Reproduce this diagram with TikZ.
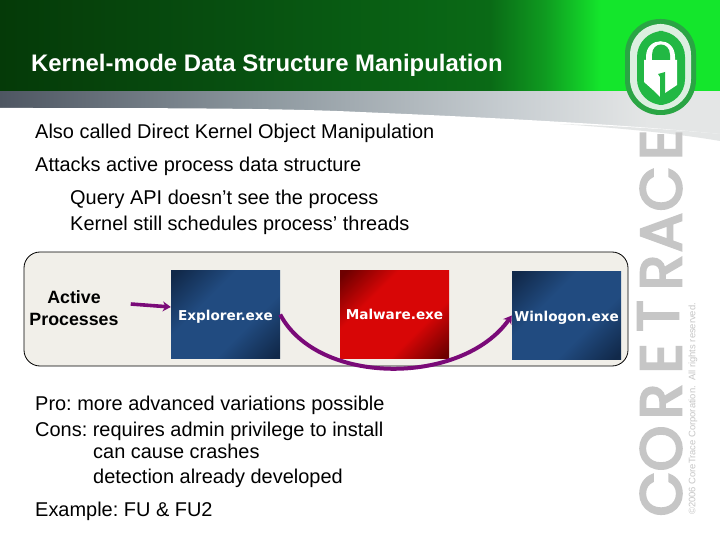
\documentclass[tikz,border=0pt]{standalone}
\usepackage{fontspec}
\setmainfont{Liberation Sans}
\newfontfamily\boxfont{DejaVu Sans}
\newfontfamily\logofont[FakeBold=4]{Poppins}
\definecolor{gA}{HTML}{053A08}
\definecolor{gB}{HTML}{074F10}
\definecolor{gC}{HTML}{0A6A16}
\definecolor{gD}{HTML}{0F9A20}
\definecolor{gE}{HTML}{14E62C}
\definecolor{sA}{HTML}{4E5662}
\definecolor{sB}{HTML}{8C979E}
\definecolor{sC}{HTML}{C6CCD0}
\definecolor{sD}{HTML}{E4E6E6}
\definecolor{bD}{HTML}{11294A}
\definecolor{bM}{HTML}{214B80}
\definecolor{rD}{HTML}{6E0000}
\definecolor{rM}{HTML}{D80606}
\definecolor{purp}{HTML}{7A0A78}
\definecolor{panel}{HTML}{F1EFE9}
\definecolor{logoD}{HTML}{2AA544}
\definecolor{logoM}{HTML}{22B844}
\definecolor{logoL}{HTML}{DCEFE0}
\definecolor{lettr}{HTML}{C6C6C6}
\pgfdeclarehorizontalshading{hdrgreen}{100bp}{color(0bp)=(gA); color(25bp)=(gA); color(41bp)=(gB); color(59bp)=(gC); color(62.8bp)=(gD); color(66.7bp)=(gE); color(100bp)=(gE)}
\pgfdeclarehorizontalshading{hdrgray}{100bp}{color(0bp)=(sA); color(25bp)=(sA); color(43bp)=(sB); color(60bp)=(sC); color(70bp)=(sD); color(100bp)=(sD)}
\pgfdeclareverticalshading{bluediag}{100bp}{color(0bp)=(bD); color(17bp)=(bD); color(38bp)=(bM); color(62bp)=(bM); color(83bp)=(bD); color(100bp)=(bD)}
\pgfdeclareverticalshading{reddiag}{100bp}{color(0bp)=(rD); color(17bp)=(rD); color(36bp)=(rM); color(64bp)=(rM); color(83bp)=(rD); color(100bp)=(rD)}
\usetikzlibrary{arrows.meta}
\tikzset{
  bodytext/.style={anchor=base west,inner sep=0pt,font=\fontsize{19.95}{22}\selectfont\frenchspacing,text=black},
  titletext/.style={anchor=base west,inner sep=0pt,font=\fontsize{23.9}{26}\bfseries\selectfont,text=white},
  procbox/.style={minimum width=109pt,minimum height=88pt,inner sep=0pt,text height=11pt,text depth=0pt,shade,shading angle=45,text=white,font=\boxfont\fontsize{13.6}{15}\bfseries\selectfont},
  bluebox/.style={procbox,shading=bluediag},
  redbox/.style={procbox,shading=reddiag},
  link/.style={draw=purp,line width=3.6pt,-{Stealth[length=8pt,width=10pt]}},
  logoletter/.style={rotate=90,anchor=center,inner sep=0pt,text=lettr,font=\logofont\fontsize{58}{60}\selectfont}
}
\begin{document}
\begin{tikzpicture}[x=1pt,y=-1pt]
\useasboundingbox (0,0) rectangle (720,540);
\fill[white] (0,0) rectangle (720,540);
% header
\shade[shading=hdrgray] (0,91) rectangle (720,140);
\fill[white] (0,108) .. controls (150,108) and (280,108) .. (360,112) .. controls (480,117) and (620,124) .. (720,134) -- (720,140) -- (0,140) -- cycle;
\fill[sD] (560,124) .. controls (620,128) and (680,134) .. (720,141) -- (720,134) .. controls (680,130) and (620,126) .. (560,124) -- cycle;
\shade[shading=hdrgreen] (0,0) rectangle (720,91);
\node[titletext] (title) at (31,72) {Kernel-mode Data Structure Manipulation};
% logo
\fill[logoD,rounded corners=35pt] (625,19) rectangle (696,115);
\fill[logoL,rounded corners=31pt] (630,24) rectangle (691,110);
\fill[logoM,rounded corners=26pt] (637,31) rectangle (685,105);
\fill[white] (644,82) -- (644,60) -- (646,60) -- (646,57) .. controls (646,36) and (675,36) .. (675,57) -- (675,60) -- (677,60) -- (677,85) -- (665,93) -- (660,97) -- (653,90) -- cycle;
\fill[logoM] (652,60) -- (652,55) .. controls (652,41) and (670,41) .. (670,55) -- (670,60) -- cycle;
\fill[logoM] (658,74) -- (665,72) -- (665,96) -- (660,97) -- (660,77) -- cycle;
% brand letters
\node[logoletter] (l1) at (661,145) {E};
\node[logoletter] (l2) at (661,189) {C};
\node[logoletter] (l3) at (661,232.5) {A};
\node[logoletter] (l4) at (661,272.5) {R};
\node[logoletter] (l5) at (658,316) {T};
\node[logoletter] (l6) at (661,358.5) {E};
\node[logoletter] (l7) at (661,401.5) {R};
\node[logoletter] (l8) at (661,448.5) {O};
\node[logoletter] (l9) at (661,494) {C};
\node[rotate=90,anchor=west,inner sep=0pt,text=lettr,font=\fontsize{9.4}{10}\selectfont] (copy) at (693,515) {©2006 CoreTrace Corporation.\ \ All rights reserved.};
% body text
\node[bodytext] (t1) at (35,139) {Also called Direct Kernel Object Manipulation};
\node[bodytext] (t2) at (35,172) {Attacks active process data structure};
\node[bodytext] (t3) at (70,205) {Query API doesn’t see the process};
\node[bodytext] (t4) at (70,230.5) {Kernel still schedules process’ threads};
% panel
\draw[black,line width=.8pt,fill=panel,rounded corners=16pt] (24,252) rectangle (628,366);
\node[align=center,inner sep=0pt,font=\fontsize{17.8}{22}\bfseries\selectfont] (active) at (74,308) {Active\\Processes};
\node[bluebox] (explorer) at (225.5,314.5) {Explorer.exe};
\node[redbox] (malware) at (394.5,314) {Malware.exe};
\node[bluebox] (winlogon) at (566.5,315.5) {Winlogon.exe};
\draw[link] ([xshift=12pt,yshift=4pt]active.east) -- ([yshift=7.5pt]explorer.west);
\draw[link,line width=4pt] (explorer.east) .. controls (318,386) and (462,386) .. (winlogon.west);
% lower text
\node[bodytext] (p1) at (35,410) {Pro: more advanced variations possible};
\node[bodytext] (p2) at (35,436) {Cons: requires admin privilege to install};
\node[bodytext] (p3) at (93,458) {can cause crashes};
\node[bodytext] (p4) at (93,483) {detection already developed};
\node[bodytext] (p5) at (35,516) {Example: FU \& FU2};
\end{tikzpicture}
\end{document}
